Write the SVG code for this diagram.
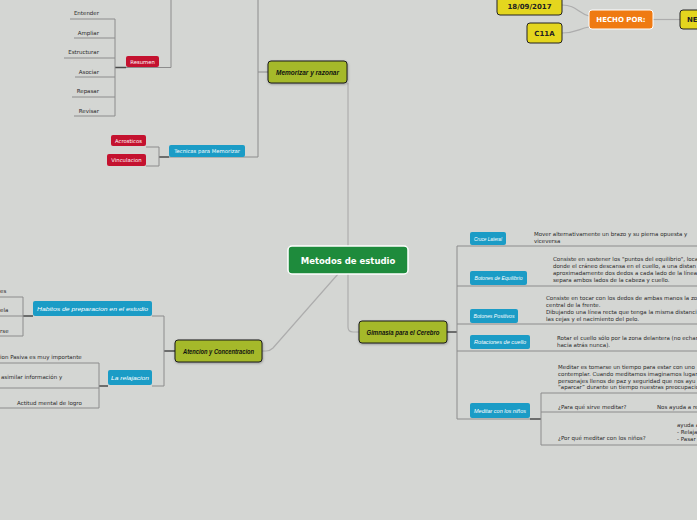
<svg xmlns="http://www.w3.org/2000/svg" width="697" height="520" viewBox="0 0 697 520">
<defs>
<style>
.ln{stroke:#8c8c8c;stroke-width:1;fill:none}
.ld{stroke:#4a4a4a;stroke-width:1.5;fill:none}
.lc{stroke:#adadad;stroke-width:1.2;fill:none}
.tx{font-family:"DejaVu Sans",sans-serif;font-size:5.5px;fill:#2a2a2a}
.red{fill:#c4122f}
.blue{fill:#1b9cc6}
.lime{fill:#a5b92b;stroke:#1a1a1a;stroke-width:1}
.yel{fill:#e4d61e;stroke:#222;stroke-width:1}
.wt{font-family:"DejaVu Sans",sans-serif;font-size:5.3px;fill:#fff;text-anchor:middle}
.hw{font-family:"Liberation Sans",sans-serif;font-style:italic;font-size:5.5px;fill:#fff;text-anchor:middle}
.hb{font-family:"Liberation Sans",sans-serif;font-style:italic;font-weight:bold;font-size:7px;fill:#111;text-anchor:middle}
.bt{font-family:"DejaVu Sans",sans-serif;font-weight:bold;font-size:7px;fill:#222;text-anchor:middle}
</style>
<filter id="sh" x="-10%" y="-20%" width="130%" height="160%">
<feDropShadow dx="0.5" dy="1" stdDeviation="0.8" flood-color="#000" flood-opacity="0.3"/>
</filter>
</defs>
<rect width="697" height="520" fill="#d4d6d3"/>

<g id="connectors">
<path class="lc" d="M348,83 V246" stroke-width="2"/>
<path class="lc" d="M348,274 V327 Q348,332 353,332 H359"/>
<path class="lc" d="M338,274 L273,348 Q270,351 266,351 H262" stroke-width="1.5"/>
<path class="ln" d="M171,0 V67.5 H126"/>
<path class="ld" d="M115,67.5 H126"/>
<path class="ln" d="M115,19 V116"/>
<path class="ln" d="M70,19 H115 M74,38 H115 M64,58 H115 M75,77 H115 M72,97 H115 M74,116 H115"/>
<path class="ln" d="M258,0 V157 H169"/>
<path class="ln" d="M258,72 H268" stroke="#999" stroke-width="2"/>
<path class="ld" d="M159,157 H169"/>
<path class="ln" d="M159,147 V166 M146,147 H159 M146,166 H159"/>
<path class="ld" d="M447,332 H457"/>
<path class="ln" d="M457,246 V419" stroke="#777"/>
<path class="ln" d="M457,246 H697 M457,286 H697 M457,324 H697 M457,351 H697 M457,419 H530"/>
<path class="ld" d="M530,419 H541"/>
<path class="ln" d="M541,393 V445 M541,393 H697 M541,412 H697 M541,445 H697"/>
<path class="ld" d="M164,351 H175"/>
<path class="ln" d="M164,316 V386 M152,316 H164 M152,386 H164"/>
<path class="ld" d="M99,386 H108"/>
<path class="ln" d="M99,363 V408 M0,363 H99 M0,388 H99 M0,408 H99"/>
<path class="ld" d="M23,316 H33"/>
<path class="ln" d="M23,297 V336 M0,297 H23 M0,316 H23 M0,336 H23"/>
<path class="lc" d="M562,5 C576,5 578,13 589,16"/>
<path class="lc" d="M562,33 C576,33 578,29 589,27"/>
<path class="lc" d="M653,19.5 H680"/>
</g>

<g id="center">
<rect x="288" y="246" width="120" height="28" rx="4" fill="#1e8b3c" stroke="#fff" stroke-width="1.5"/>
<text x="348" y="263.5" font-family="DejaVu Sans,sans-serif" font-weight="bold" font-size="8.5" fill="#fff" text-anchor="middle">Metodos de estudio</text>
</g>

<g id="memorizar">
<rect class="lime" x="268" y="61" width="79" height="22" rx="3" filter="url(#sh)"/>
<text class="hb" x="307.5" y="74.5" textLength="63" lengthAdjust="spacingAndGlyphs">Memorizar y razonar</text>
</g>
<g id="resumen">
<rect class="red" x="126" y="56" width="33" height="11" rx="2"/>
<text class="wt" x="142.5" y="63.5">Resumen</text>
</g>
<g id="resumen-items">
<text class="tx" x="99" y="15" text-anchor="end">Entender</text>
<text class="tx" x="99" y="35" text-anchor="end">Ampliar</text>
<text class="tx" x="99" y="54" text-anchor="end">Estructurar</text>
<text class="tx" x="99" y="74" text-anchor="end">Asociar</text>
<text class="tx" x="99" y="93" text-anchor="end">Repasar</text>
<text class="tx" x="99" y="113" text-anchor="end">Revisar</text>
</g>
<g id="tecnicas">
<rect class="blue" x="169" y="145" width="76" height="12" rx="2"/>
<text class="wt" x="207" y="153">Tecnicas para Memorizar</text>
</g>
<g id="acrosticos">
<rect class="red" x="111" y="135" width="35" height="11" rx="2"/>
<text class="wt" x="128.5" y="142.5">Acrosticos</text>
</g>
<g id="vinculacion">
<rect class="red" x="107" y="154" width="39" height="12" rx="2"/>
<text class="wt" x="126.5" y="162">Vinculacion</text>
</g>

<g id="gimnasia">
<rect class="lime" x="359" y="321" width="88" height="22" rx="3" filter="url(#sh)"/>
<text class="hb" x="403" y="334.5" textLength="73" lengthAdjust="spacingAndGlyphs">Gimnasia para el Cerebro</text>
</g>
<g id="cruce">
<rect class="blue" x="470" y="232" width="36" height="13" rx="2"/>
<text class="hw" x="488" y="240.5" textLength="28" lengthAdjust="spacingAndGlyphs">Cruce Lateral</text>
<text class="tx" x="534" y="236">Mover alternativamente un brazo y su pierna opuesta y</text>
<text class="tx" x="534" y="243">viceversa</text>
</g>
<g id="equilibrio">
<rect class="blue" x="470" y="271" width="57" height="14" rx="2"/>
<text class="hw" x="498.5" y="280" textLength="48" lengthAdjust="spacingAndGlyphs">Botones de Equilibrio</text>
<text class="tx" x="553" y="261">Consiste en sostener los "puntos del equilibrio", loca</text>
<text class="tx" x="553" y="268">donde el cráneo descansa en el cuello, a una distan</text>
<text class="tx" x="553" y="275">aproximadamente dos dedos a cada lado de la línea</text>
<text class="tx" x="553" y="282">separa ambos lados de la cabeza y cuello.</text>
</g>
<g id="positivos">
<rect class="blue" x="470" y="309" width="48" height="14" rx="2"/>
<text class="hw" x="494" y="318" textLength="41" lengthAdjust="spacingAndGlyphs">Botones Positivos</text>
<text class="tx" x="546" y="300">Consiste en tocar con los dedos de ambas manos la zo</text>
<text class="tx" x="546" y="307">central de la frente.</text>
<text class="tx" x="546" y="314">Dibujando una línea recta que tenga la misma distanci</text>
<text class="tx" x="546" y="321">las cejas y el nacimiento del pelo.</text>
</g>
<g id="rotaciones">
<rect class="blue" x="470" y="335" width="60" height="14" rx="2"/>
<text class="hw" x="500" y="344" textLength="52" lengthAdjust="spacingAndGlyphs">Rotaciones de cuello</text>
<text class="tx" x="557" y="340">Rotar el cuello sólo por la zona delantera (no echar</text>
<text class="tx" x="557" y="347">hacia atrás nunca).</text>
</g>
<g id="meditar">
<rect class="blue" x="470" y="403" width="60" height="15" rx="2"/>
<text class="hw" x="500" y="412.5" textLength="52" lengthAdjust="spacingAndGlyphs">Meditar con los niños</text>
<text class="tx" x="558" y="369">Meditar es tomarse un tiempo para estar con uno</text>
<text class="tx" x="558" y="376">contemplar. Cuando meditamos imaginamos lugar</text>
<text class="tx" x="558" y="383">personajes llenos de paz y seguridad que nos ayu</text>
<text class="tx" x="558" y="389">“aparcar” durante un tiempo nuestras preocupacio</text>
</g>
<g id="para-que">
<text class="tx" x="558" y="409">¿Para qué sirve meditar?</text>
<text class="tx" x="657" y="409">Nos ayuda a re</text>
</g>
<g id="por-que">
<text class="tx" x="558" y="440">¿Por qué meditar con los niños?</text>
<text class="tx" x="677" y="427">ayuda a</text>
<text class="tx" x="677" y="434">- Relaja</text>
<text class="tx" x="677" y="441">- Pasar</text>
</g>

<g id="atencion">
<rect class="lime" x="175" y="340" width="87" height="22" rx="3" filter="url(#sh)"/>
<text class="hb" x="218.5" y="353.5" textLength="71" lengthAdjust="spacingAndGlyphs">Atencion y Concentracion</text>
</g>
<g id="habitos">
<rect class="blue" x="33" y="301" width="119" height="15" rx="2"/>
<text class="hw" x="92.5" y="310.5" textLength="111" lengthAdjust="spacingAndGlyphs">Habitos de preparacion en el estudio</text>
</g>
<g id="habitos-items">
<text class="tx" x="0" y="293">es</text>
<text class="tx" x="0" y="312">ela</text>
<text class="tx" x="0" y="333">rse</text>
</g>
<g id="relajacion">
<rect class="blue" x="108" y="370" width="44" height="15" rx="2"/>
<text class="hw" x="130" y="379.5" textLength="38" lengthAdjust="spacingAndGlyphs">La relajacion</text>
</g>
<g id="relajacion-items">
<text class="tx" x="0" y="359">ion Pasiva es muy importante</text>
<text class="tx" x="1" y="379">asimilar información y</text>
<text class="tx" x="17" y="405">Actitud mental de logro</text>
</g>

<g id="fecha">
<rect class="yel" x="497" y="-4" width="65" height="19" rx="3"/>
<text class="bt" x="529.5" y="8.5">18/09/2017</text>
</g>
<g id="c11a">
<rect class="yel" x="527" y="23" width="35" height="20" rx="3"/>
<text class="bt" x="544.5" y="35.5">C11A</text>
</g>
<g id="hecho">
<rect x="589" y="10" width="64" height="19" rx="3" fill="#ef7a12" stroke="#fff" stroke-width="1"/>
<text class="bt" x="621" y="22" style="fill:#fff" font-size="6.5">HECHO POR:</text>
</g>
<g id="ne">
<rect class="yel" x="680" y="10" width="30" height="19" rx="3"/>
<text class="bt" x="687" y="22" style="text-anchor:start">NE</text>
</g>
</svg>
